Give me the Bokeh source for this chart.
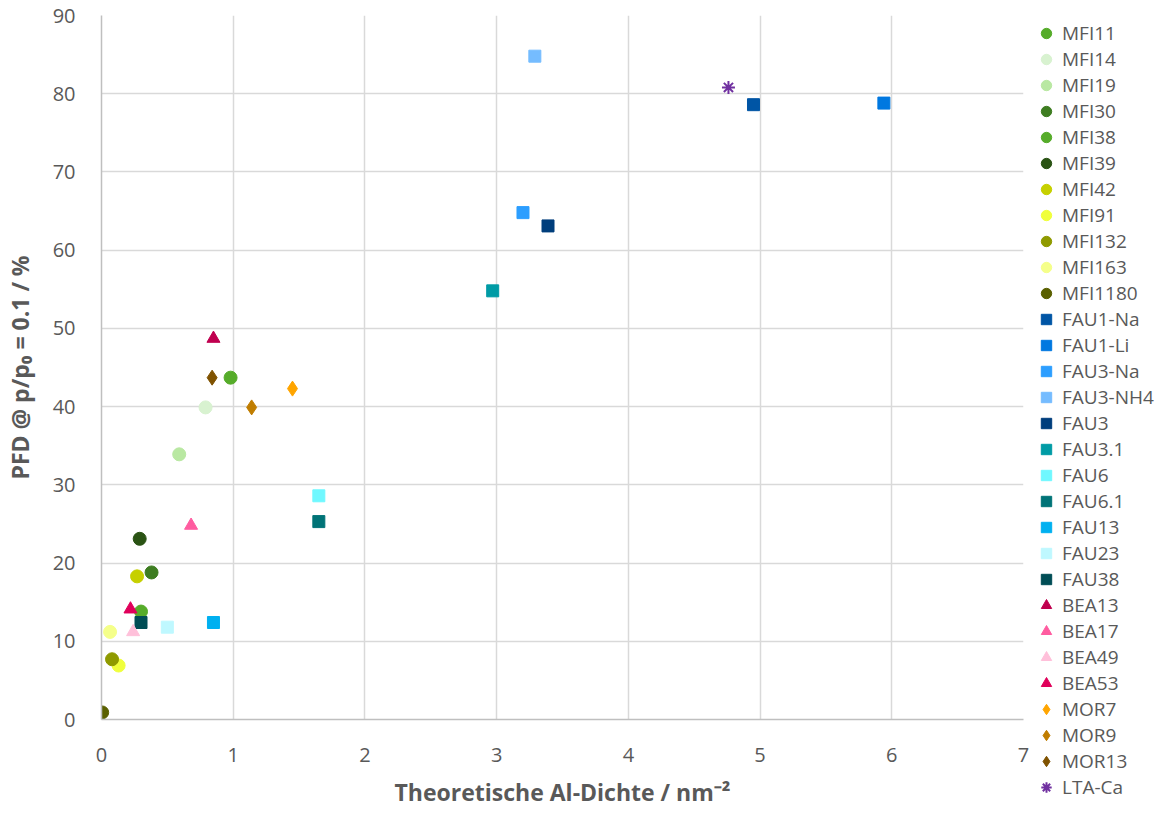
import numpy as np
from bokeh.plotting import figure
from bokeh.models import Legend, LegendItem, Range1d, FixedTicker
from bokeh.embed import file_html
from bokeh.resources import INLINE

# ---- data ----
names = ["MFI11", "MFI14", "MFI19", "MFI30", "MFI38", "MFI39", "MFI42", "MFI91",
         "MFI132", "MFI163", "MFI1180",
         "FAU1-Na", "FAU1-Li", "FAU3-Na", "FAU3-NH4", "FAU3", "FAU3.1", "FAU6",
         "FAU6.1", "FAU13", "FAU23", "FAU38",
         "BEA13", "BEA17", "BEA49", "BEA53",
         "MOR7", "MOR9", "MOR13",
         "LTA-Ca"]
al_density = [0.98, 0.79, 0.59, 0.38, 0.30, 0.29, 0.27, 0.13,
              0.08, 0.065, 0.005,
              4.95, 5.94, 3.20, 3.29, 3.39, 2.97, 1.65,
              1.65, 0.85, 0.50, 0.30,
              0.85, 0.68, 0.24, 0.22,
              1.45, 1.14, 0.84,
              4.76]
pfd = [43.7, 39.9, 33.9, 18.8, 13.8, 23.1, 18.3, 6.9,
       7.7, 11.2, 0.9,
       78.6, 78.8, 64.8, 84.8, 63.1, 54.8, 28.6,
       25.3, 12.4, 11.8, 12.4,
       48.7, 24.8, 11.2, 14.1,
       42.3, 39.9, 43.7,
       80.8]
colors = ["#56ac2a", "#d8f2d0", "#b9e8a2", "#3e7d21", "#56ac2a", "#2a5314", "#c6d000", "#f0ff3c",
          "#8f9a00", "#f5ff8a", "#5a6000",
          "#0055a5", "#0078e0", "#2c9eff", "#75bcff", "#003e7c", "#009ba5", "#70f8ff",
          "#007377", "#00b0f0", "#bff8ff", "#004d55",
          "#c0004f", "#ff5ca0", "#ffc0da", "#e0005a",
          "#ffa500", "#c07d00", "#7f5200",
          "#7030a0"]
x_ticks = [0, 1, 2, 3, 4, 5, 6, 7]
y_ticks = [0, 10, 20, 30, 40, 50, 60, 70, 80, 90]

FONT = "Open Sans"
GREY = "#595959"

p = figure(frame_width=922, frame_height=704, output_backend="svg", toolbar_location=None,
           x_range=Range1d(0, 7), y_range=Range1d(0, 90),
           min_border_left=92, min_border_top=15, min_border_right=0, min_border_bottom=79)
p.outline_line_color = None

items = []
for n, xv, yv, c in zip(names, al_density, pfd, colors):
    kind = n[:3]
    if kind == "MFI":
        r = p.scatter([xv], [yv], marker="circle", size=13, fill_color=c, line_color=c)
    elif kind == "FAU":
        r = p.scatter([xv], [yv], marker="square", size=12, fill_color=c, line_color=c)
    elif kind == "BEA":
        r = p.scatter([xv], [yv], marker="triangle", size=13, fill_color=c, line_color=c)
    elif kind == "MOR":
        r = p.scatter([xv], [yv], marker="diamond", size=15, fill_color=c, line_color=c)
    else:
        r = p.scatter([xv], [yv], marker="asterisk", size=13, line_color=c, line_width=2)
    items.append(LegendItem(label=n, renderers=[r]))

legend = Legend(items=items, location=(10, -81), orientation="vertical",
                label_text_font=FONT, label_text_font_size="19px", label_text_color=GREY,
                label_height=26, glyph_height=26, glyph_width=26, spacing=0,
                padding=0, margin=0, label_standoff=3,
                border_line_alpha=0, background_fill_alpha=0)
p.add_layout(legend, "right")

for ax in (p.xaxis, p.yaxis):
    ax.major_label_text_font = FONT
    ax.major_label_text_font_size = "20px"
    ax.major_label_text_color = GREY
    ax.axis_label_text_font = FONT
    ax.axis_label_text_font_style = "bold"
    ax.axis_label_text_font_size = "23px"
    ax.axis_label_text_color = GREY
    ax.major_tick_line_color = None
    ax.minor_tick_line_color = None
    ax.axis_line_color = "#bfbfbf"
    ax.axis_line_width = 1.5

p.xaxis.ticker = FixedTicker(ticks=x_ticks)
p.yaxis.ticker = FixedTicker(ticks=y_ticks)
p.xaxis.axis_label = "Theoretische Al-Dichte / nm⁻²"
p.yaxis.axis_label = "PFD @ p/p₀ = 0.1 / %"
p.xaxis.major_label_standoff = 22
p.yaxis.major_label_standoff = 20
p.xaxis.axis_label_standoff = 11
p.yaxis.axis_label_standoff = 14

p.xgrid.ticker = FixedTicker(ticks=x_ticks)
p.ygrid.ticker = FixedTicker(ticks=y_ticks)
for g in (p.xgrid, p.ygrid):
    g.grid_line_color = "#d9d9d9"
    g.grid_line_width = 1.5

open("out.html", "w").write(file_html(p, INLINE))
